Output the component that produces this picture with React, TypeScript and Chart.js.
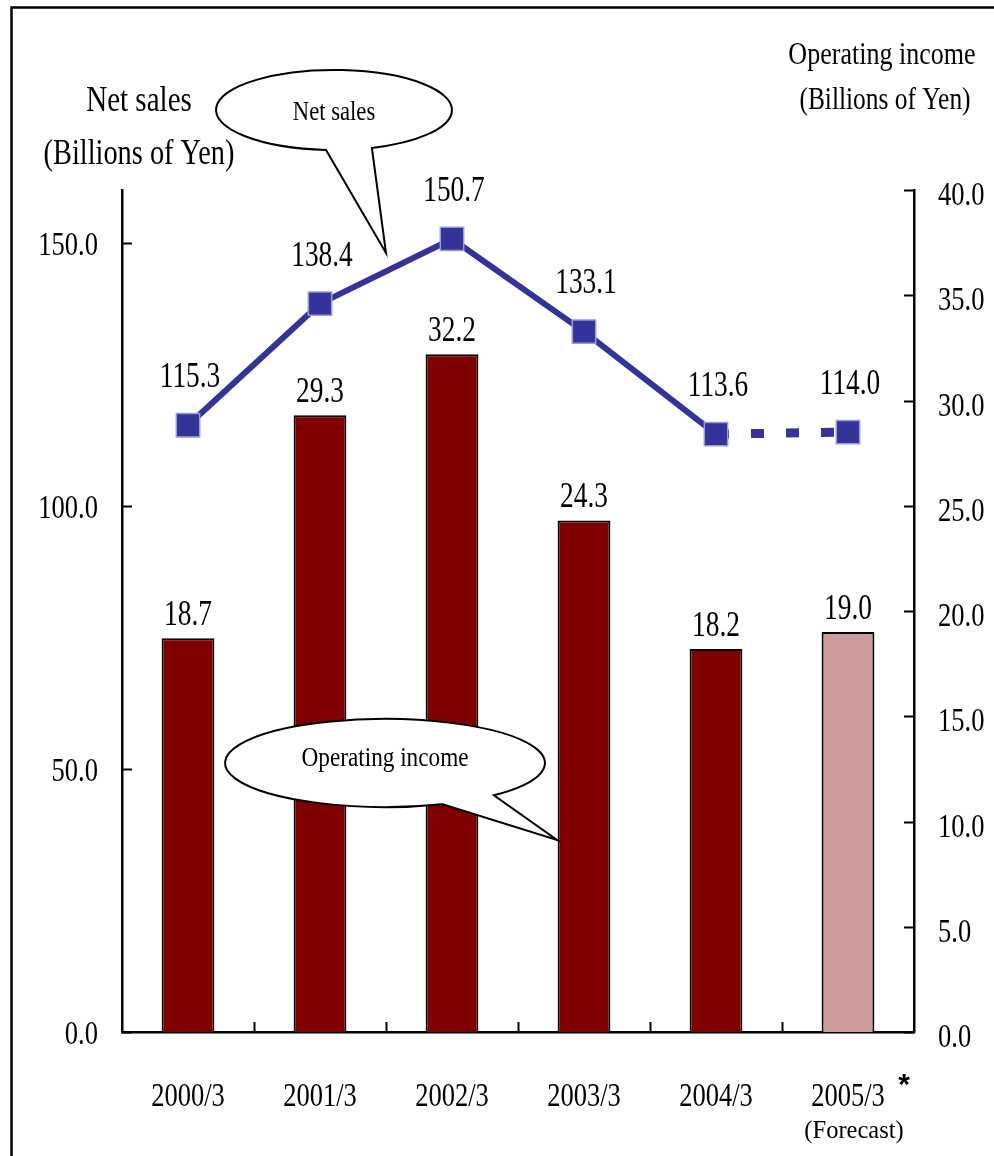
import React, { useEffect, useRef } from "react";
import { Chart, registerables } from "chart.js";

Chart.register(...registerables);

const CATEGORIES = ["2000/3", "2001/3", "2002/3", "2003/3", "2004/3", "2005/3"];
const NET_SALES = [115.3, 138.4, 150.7, 133.1, 113.6, 114.0];
const OPERATING_INCOME = [18.7, 29.3, 32.2, 24.3, 18.2, 19.0];
const FORECAST_INDEX = 5;
const LEFT_TICKS = [0, 50, 100, 150];
const RIGHT_TICKS = [0, 5, 10, 15, 20, 25, 30, 35, 40];
const LEFT_MAX = 160;
const RIGHT_MAX = 40;

const SERIF = '"Liberation Serif", "Times New Roman", serif';
const BAR_COLOR = "#800000";
const FORECAST_BAR_COLOR = "#CE9C9C";
const LINE_COLOR = "#333399";

function txt(
  ctx: CanvasRenderingContext2D,
  s: string,
  x: number,
  cy: number,
  size: number,
  align: CanvasTextAlign,
  sx: number
) {
  ctx.save();
  ctx.font = `${size}px ${SERIF}`;
  ctx.fillStyle = "#000";
  ctx.textAlign = align;
  ctx.textBaseline = "alphabetic";
  ctx.translate(x, cy + size * 0.33);
  ctx.scale(sx, 1);
  ctx.fillText(s, 0, 0);
  ctx.restore();
}

function callout(
  ctx: CanvasRenderingContext2D,
  cx: number,
  cy: number,
  rx: number,
  ry: number,
  b1: [number, number],
  b2: [number, number],
  tip: [number, number]
) {
  const t1 = Math.atan2((b1[1] - cy) / ry, (b1[0] - cx) / rx);
  let t2 = Math.atan2((b2[1] - cy) / ry, (b2[0] - cx) / rx);
  while (t2 <= t1) t2 += Math.PI * 2;
  ctx.save();
  ctx.beginPath();
  ctx.ellipse(cx, cy, rx, ry, 0, t1, t2, false);
  ctx.lineTo(tip[0], tip[1]);
  ctx.closePath();
  ctx.fillStyle = "#fff";
  ctx.fill();
  ctx.lineWidth = 2;
  ctx.strokeStyle = "#000";
  ctx.lineJoin = "miter";
  ctx.stroke();
  ctx.restore();
}

const decorPlugin = {
  id: "decor",
  afterDatasetsDraw(chart: any) {
    const ctx: CanvasRenderingContext2D = chart.ctx;
    const area = chart.chartArea;
    const x = chart.scales.x;
    const y = chart.scales.y;
    const y1 = chart.scales.y1;

    ctx.save();
    ctx.strokeStyle = "#000";
    ctx.lineWidth = 2;
    // left axis ticks (inward)
    LEFT_TICKS.forEach((v) => {
      const py = Math.round(y.getPixelForValue(v)) + 0.5;
      ctx.beginPath();
      ctx.moveTo(area.left, py);
      ctx.lineTo(area.left + 10, py);
      ctx.stroke();
      txt(ctx, v.toFixed(1), area.left - 24, py, 34, "right", 0.78);
    });
    RIGHT_TICKS.forEach((v) => {
      const py = Math.round(y1.getPixelForValue(v)) + 0.5;
      ctx.beginPath();
      ctx.moveTo(area.right - 10, py);
      ctx.lineTo(area.right, py);
      ctx.stroke();
      txt(ctx, v.toFixed(1), area.right + 24, py + 3, 34, "left", 0.78);
    });
    // x ticks at category boundaries
    for (let i = 1; i < CATEGORIES.length; i++) {
      const px =
        Math.round((x.getPixelForValue(i - 1) + x.getPixelForValue(i)) / 2) + 0.5;
      ctx.beginPath();
      ctx.moveTo(px, area.bottom);
      ctx.lineTo(px, area.bottom - 10);
      ctx.stroke();
    }
    ctx.restore();

    // category labels
    CATEGORIES.forEach((c, i) => {
      const px = x.getPixelForValue(i);
      txt(ctx, c, px, area.bottom + 63, 34, "center", 0.78);
      if (i === FORECAST_INDEX) {
        txt(ctx, "(Forecast)", px + 6, area.bottom + 98, 25, "center", 0.98);
        ctx.save();
        ctx.font = 'bold 30px "Liberation Sans", Arial, sans-serif';
        ctx.fillStyle = "#000";
        ctx.textAlign = "center";
        ctx.fillText("*", px + 56, area.bottom + 62);
        ctx.restore();
      }
    });

    // data labels
    const barMeta = chart.getDatasetMeta(1);
    barMeta.data.forEach((el: any, i: number) => {
      txt(ctx, OPERATING_INCOME[i].toFixed(1), el.x, el.y - 25, 36, "center", 0.76);
    });
    const lineMeta = chart.getDatasetMeta(0);
    lineMeta.data.forEach((el: any, i: number) => {
      txt(ctx, NET_SALES[i].toFixed(1), el.x + 2, el.y - 50, 36, "center", 0.76);
    });

    // axis titles
    txt(ctx, "Net sales", 139, 99, 35, "center", 0.83);
    txt(ctx, "(Billions of Yen)", 139, 152, 35, "center", 0.81);
    txt(ctx, "Operating income", 882, 54, 31, "center", 0.84);
    txt(ctx, "(Billions of Yen)", 885, 99, 31, "center", 0.82);

    // callouts
    callout(ctx, 334, 110, 118, 40, [326, 150], [372, 148], [386, 253]);
    txt(ctx, "Net sales", 334, 111, 27, "center", 0.84);
    callout(ctx, 385, 763, 160, 44, [443, 805], [493, 795], [557, 840]);
    txt(ctx, "Operating income", 385, 757, 27, "center", 0.86);

    // outer frame
    ctx.save();
    ctx.strokeStyle = "#000";
    ctx.lineWidth = 2.5;
    ctx.beginPath();
    ctx.moveTo(994, 7.5);
    ctx.lineTo(11.5, 7.5);
    ctx.lineTo(11.5, 1156);
    ctx.stroke();
    ctx.restore();
  },
};

export default function App() {
  const ref = useRef<HTMLCanvasElement | null>(null);

  useEffect(() => {
    if (!ref.current) return;
    const chart = new Chart(ref.current, {
      type: "bar",
      data: {
        labels: CATEGORIES,
        datasets: [
          {
            type: "line",
            label: "Net sales",
            data: NET_SALES,
            yAxisID: "y",
            order: 0,
            borderColor: LINE_COLOR,
            borderWidth: 6,
            borderCapStyle: "butt",
            pointStyle: "rect",
            pointRadius: 16.5,
            pointBackgroundColor: LINE_COLOR,
            pointBorderColor: "#9a9ad6",
            pointBorderWidth: 1.5,
            tension: 0,
            segment: {
              borderDash: (c: any) =>
                c.p1DataIndex === FORECAST_INDEX ? [13, 22] : undefined,
              borderWidth: (c: any) =>
                c.p1DataIndex === FORECAST_INDEX ? 9 : undefined,
            },
          } as any,
          {
            type: "bar",
            label: "Operating income",
            data: OPERATING_INCOME,
            yAxisID: "y1",
            order: 1,
            backgroundColor: OPERATING_INCOME.map((_, i) =>
              i === FORECAST_INDEX ? FORECAST_BAR_COLOR : BAR_COLOR
            ),
            borderColor: "#000",
            borderWidth: 2,
            barPercentage: 0.4,
            categoryPercentage: 1,
          },
        ],
      },
      options: {
        animation: false,
        responsive: false,
        devicePixelRatio: 1,
        layout: { padding: { left: 112, right: 70, top: 190, bottom: 114 } },
        plugins: {
          legend: { display: false },
          tooltip: { enabled: false },
        },
        scales: {
          x: {
            type: "category",
            grid: { display: false, drawTicks: false },
            ticks: { display: false },
            border: { display: true, color: "#000", width: 2.5 },
            afterFit: (s: any) => {
              s.height = 10;
            },
          },
          y: {
            position: "left",
            min: 0,
            max: LEFT_MAX,
            grid: { display: false, drawTicks: false },
            ticks: { display: false },
            border: { display: true, color: "#000", width: 2.5 },
            afterFit: (s: any) => {
              s.width = 10;
            },
          },
          y1: {
            position: "right",
            min: 0,
            max: RIGHT_MAX,
            grid: { display: false, drawTicks: false },
            ticks: { display: false },
            border: { display: true, color: "#000", width: 2.5 },
            afterFit: (s: any) => {
              s.width = 10;
            },
          },
        },
      },
      plugins: [decorPlugin],
    });
    return () => chart.destroy();
  }, []);

  return (
    <div
      style={{
        position: "fixed",
        left: 0,
        top: 0,
        width: 994,
        height: 1156,
        background: "#fff",
      }}
    >
      <canvas ref={ref} width={994} height={1156} style={{ width: 994, height: 1156 }} />
    </div>
  );
}
